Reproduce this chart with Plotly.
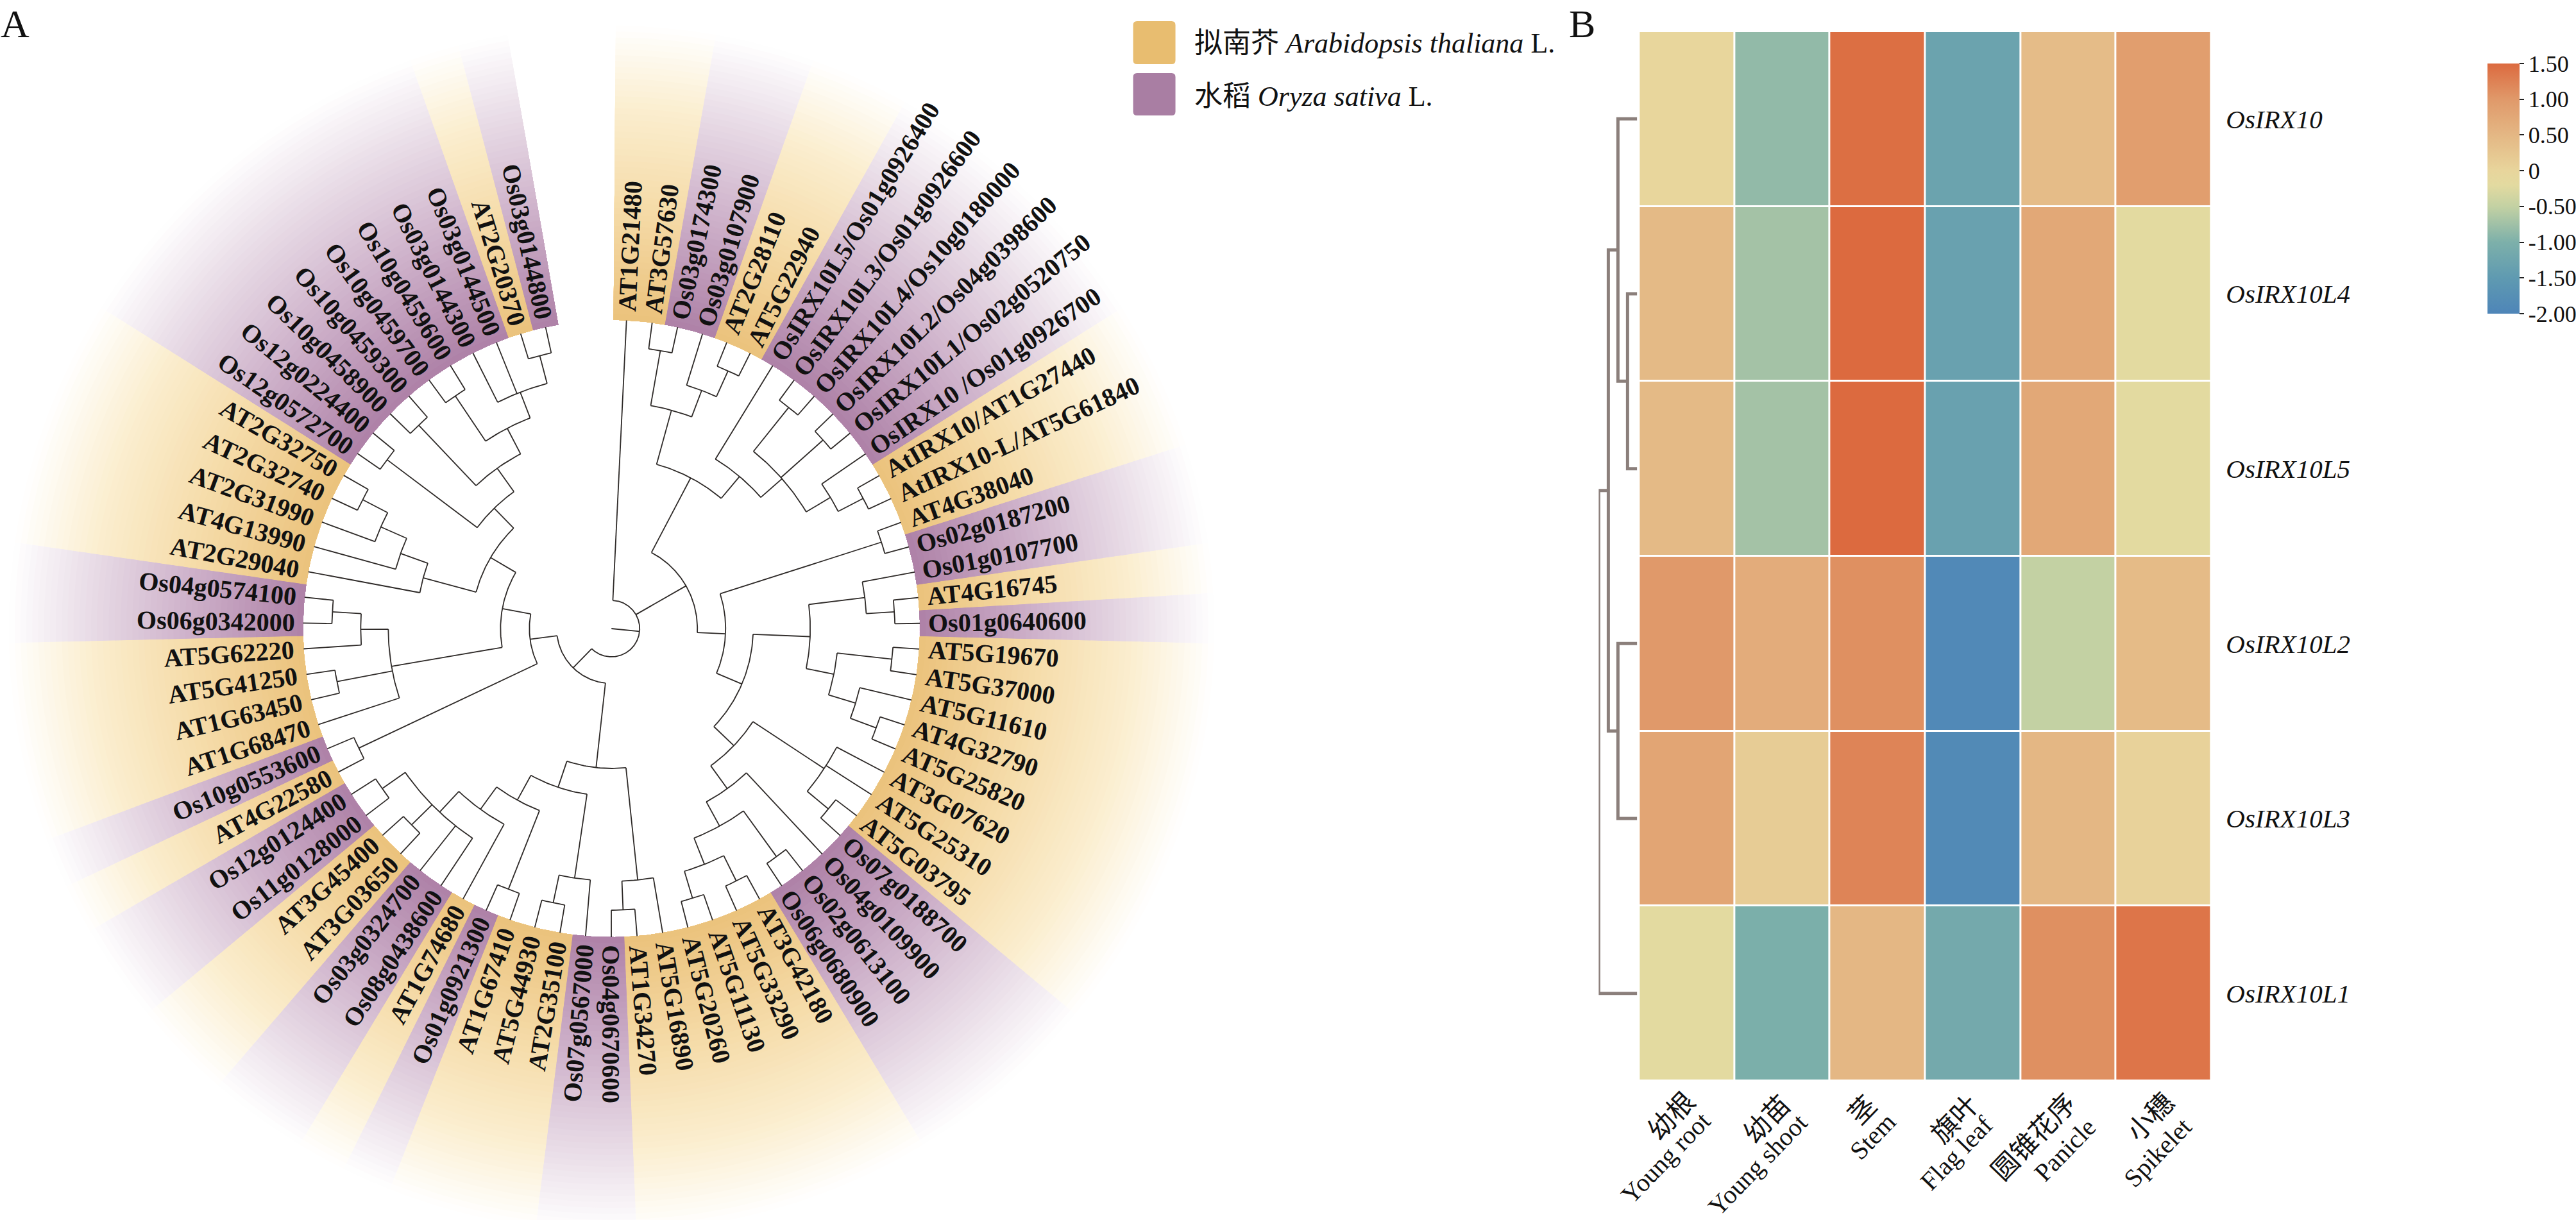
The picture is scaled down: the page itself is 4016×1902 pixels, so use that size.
import math
import plotly.graph_objects as go

# ---------- Panel A data ----------
LEAVES = ["AT1G21480","AT3G57630","Os03g0174300","Os03g0107900","AT2G28110","AT5G22940",
 "OsIRX10L5/Os01g0926400","OsIRX10L3/Os01g0926600","OsIRX10L4/Os10g0180000","OsIRX10L2/Os04g0398600",
 "OsIRX10L1/Os02g0520750","OsIRX10 /Os01g0926700","AtIRX10/AT1G27440","AtIRX10-L/AT5G61840","AT4G38040",
 "Os02g0187200","Os01g0107700","AT4G16745","Os01g0640600","AT5G19670","AT5G37000","AT5G11610","AT4G32790",
 "AT5G25820","AT3G07620","AT5G25310","AT5G03795","Os07g0188700","Os04g0109900","Os02g0613100","Os06g0680900",
 "AT3G42180","AT5G33290","AT5G11130","AT5G20260","AT5G16890","AT1G34270","Os04g0670600","Os07g0567000",
 "AT2G35100","AT5G44930","AT1G67410","Os01g0921300","AT1G74680","Os08g0438600","Os03g0324700","AT3G03650",
 "AT3G45400","Os11g0128000","Os12g0124400","AT4G22580","Os10g0553600","AT1G68470","AT1G63450","AT5G41250",
 "AT5G62220","Os06g0342000","Os04g0574100","AT2G29040","AT4G13990","AT2G31990","AT2G32740","AT2G32750",
 "Os12g0572700","Os12g0224400","Os10g0458900","Os10g0459300","Os10g0459700","Os10g0459600","Os03g0144300",
 "Os03g0144500","AT2G20370","Os03g0144800"]

# nested clades: (node radius, child, child, ...); an int is a 1-based leaf number
CLADE_TOP = (265.5, (353, (440, 2, 3), (397, 4, (441, 5, 6))),
             (310, 7, (354, (442, 8, 9), (442, 10, 11), (398, 12, (442, 13, 14)))))
CLADE_MID_A = (310, (398, 17, (442, 18, 19)), (354, (440, 20, 21), (398, 22, (441, 23, 24))))
CLADE_MID_B = (264, (397, 25, 26, (440, 27, 28)),
               (308, 29, (351, (439, 30, 31), (395, (439, 32, 33), (439, 34, 35)))))
CLADE_RIGHT = (134, CLADE_TOP, (178, (442, 15, 16), (221, CLADE_MID_A, CLADE_MID_B)))
CLADE_BOTTOM = (218, (394, 36, (439, 37, 38)),
                (261, (393, 39, (437, 40, 41)),
                 (305, (437, 42, 43), (348, 44, (392, 45, 46, (437, 47, 48), (436, 49, 50))))))
CLADE_ULTOP = (262, (438, 64, 65),
               (307, (437, 66, 67), (352, (437, 68, 69), (395, 70, 71, (440, 72, 73)))))
CLADE_UL = (218.6, (304, 59, (349, 60, (393, 61, (437, 62, 63)))), CLADE_ULTOP)
CLADE_LEFT = (128, (436, 51, 52), (173, (348, (391, 56, (436, 57, 58)), (436, 54, 55), 53), CLADE_UL))
TREE = (44, 1, CLADE_RIGHT, (85.5, CLADE_BOTTOM, CLADE_LEFT))

LEGEND_LABELS = ["拟南芥 <i>Arabidopsis thaliana</i> L.", "水稻 <i>Oryza sativa</i> L."]

# ---------- Panel B data ----------
GENES = ["OsIRX10", "OsIRX10L4", "OsIRX10L5", "OsIRX10L2", "OsIRX10L3", "OsIRX10L1"]
TISSUES_CN = ["幼根", "幼苗", "茎", "旗叶", "圆锥花序", "小穗"]
TISSUES_EN = ["Young root", "Young shoot", "Stem", "Flag leaf", "Panicle", "Spikelet"]
EXPR = [[-0.02, -0.85, 1.45, -1.30, 0.42, 0.92],
        [ 0.45, -0.72, 1.50, -1.33, 0.75, -0.20],
        [ 0.45, -0.72, 1.50, -1.33, 0.75, -0.20],
        [ 1.00,  0.68, 1.10, -1.90, -0.50, 0.43],
        [ 0.80,  0.15, 1.22, -1.87, 0.50, 0.05],
        [-0.20, -1.03, 0.50, -1.15, 1.10, 1.38]]
CB_TICKS = [1.5, 1.0, 0.5, 0, -0.5, -1.0, -1.5, -2.0]
CB_TEXT = ["1.50", "1.00", "0.50", "0", "-0.50", "-1.00", "-1.50", "-2.00"]
# dendrogram links: (height, row a, row b) in row positions
DENDRO = [(1, 1, 2), (2, 0, 1.5), (2, 3, 4), (3, 0.75, 3.5), (4, 2.125, 5)]
DENDRO_KIDS = {(1, 1): 0, (1, 2): 0, (2, 0): 0, (2, 1.5): 1, (2, 3): 0, (2, 4): 0,
               (3, 0.75): 2, (3, 3.5): 2, (4, 2.125): 3, (4, 5): 0}

# ---------- Layout constants ----------
W, H = 4016, 1902
CX, CY = 953.5, 980
R_IN, R_OUT = 481, 940
A0, STEP = 0.4, 4.79
ORANGE = [(0, (235, 194, 124)), (0.38, (245, 219, 168)), (0.72, (251, 238, 207)), (1, (255, 255, 255))]
PURPLE = [(0, (174, 129, 167)), (0.38, (205, 176, 201)), (0.72, (232, 219, 230)), (1, (255, 255, 255))]
SERIF = "Liberation Serif, Noto Sans CJK SC"
BOLD_W = {"O":778,"s":389,"g":500,"A":722,"T":667,"G":778,"I":389,"R":722,"X":722,"L":667,"t":333,"/":278," ":250,"-":333}


def xy(theta, r):
    t = math.radians(theta)
    return CX + r * math.sin(t), CY - r * math.cos(t)


def leaf_angle(i):
    return A0 + (i - 0.5) * STEP


def mix(stops, f):
    for (f0, c0), (f1, c1) in zip(stops, stops[1:]):
        if f <= f1:
            u = (f - f0) / (f1 - f0)
            return "rgb(%d,%d,%d)" % tuple(round(a + (b - a) * u) for a, b in zip(c0, c1))
    return "rgb(255,255,255)"


fig = go.Figure()

# gradient wedges: opaque nested sectors from the outside in, so no seams appear
groups = []
for i, name in enumerate(LEAVES, 1):
    sp = name[:2] == "AT" or name[:2] == "At"
    if groups and groups[-1][0] == sp:
        groups[-1][2] = i
    else:
        groups.append([sp, i, i])
N_BANDS = 50
for k in range(N_BANDS, 0, -1):
    f = (k - 0.5) / N_BANDS
    rk = R_IN + (R_OUT - R_IN) * k / N_BANDS
    for sp, stops in ((True, ORANGE), (False, PURPLE)):
        xs, ys = [], []
        for s, a, b in groups:
            if s != sp:
                continue
            t0, t1 = A0 + (a - 1) * STEP, A0 + b * STEP
            n = max(2, int((t1 - t0) / 0.8))
            ts = [t0 + (t1 - t0) * j / n for j in range(n + 1)]
            pts = [xy(t, rk) for t in ts] + [xy(t, R_IN) for t in reversed(ts)]
            xs += [p[0] for p in pts] + [pts[0][0], None]
            ys += [p[1] for p in pts] + [pts[0][1], None]
        fig.add_trace(go.Scatter(x=xs, y=ys, mode="lines", fill="toself", fillcolor=mix(stops, f),
                                 line=dict(width=0), hoverinfo="skip", showlegend=False))

# tree
tx, ty = [], []


def seg(points):
    for p in points:
        tx.append(p[0]); ty.append(p[1])
    tx.append(None); ty.append(None)


def walk(node):
    if isinstance(node, int):
        return leaf_angle(node), R_IN
    r = node[0]
    kids = [walk(c) for c in node[1:]]
    angs = [k[0] for k in kids]
    for a, rc in kids:
        seg([xy(a, rc), xy(a, r)])
    lo, hi = min(angs), max(angs)
    n = max(2, int((hi - lo) / 0.8))
    seg([xy(lo + (hi - lo) * j / n, r) for j in range(n + 1)])
    return sum(angs) / len(angs), r


root_angle, root_r = walk(TREE)
seg([xy(root_angle, 0), xy(root_angle, root_r)])
fig.add_trace(go.Scatter(x=tx, y=ty, mode="lines", line=dict(color="#2e2a28", width=1.8),
                         hoverinfo="skip", showlegend=False))

# ---------- heatmap ----------
HX0, HX1, HY0, HY1 = 2556, 3448, 49, 1685
SCALE_STOPS = [(-2, "#4E85B8"), (-1.5, "#5F9AB1"), (-1, "#7DB0AA"), (-0.5, "#C3D1A3"), (-0.2, "#E3DAA0"),
               (0, "#E8D59C"), (0.5, "#E4B784"), (1, "#E0996A"), (1.5, "#DC6A3F")]
cs = [[(v + 2) / 3.5, c] for v, c in SCALE_STOPS]
fig.add_trace(go.Heatmap(z=EXPR, x=list(range(6)), y=list(range(6)), xaxis="x2", yaxis="y2",
                         zmin=-2, zmax=1.5, colorscale=cs, xgap=3, ygap=3, hoverinfo="skip",
                         colorbar=dict(x=3878 / W, xanchor="left", y=1 - 99 / H, yanchor="top",
                                       lenmode="pixels", len=390, thicknessmode="pixels", thickness=50,
                                       xpad=0, ypad=0, outlinewidth=0, tickmode="array", tickvals=CB_TICKS,
                                       ticktext=CB_TEXT, ticks="outside", ticklen=7, tickwidth=2,
                                       tickcolor="#222", tickfont=dict(family=SERIF, size=36, color="#111"))))

dx, dy = [], []
for h, a, b in DENDRO:
    ha, hb = DENDRO_KIDS[(h, a)], DENDRO_KIDS[(h, b)]
    dx += [ha, h, h, hb, None]
    dy += [a, a, b, b, None]
fig.add_trace(go.Scatter(x=dx, y=dy, xaxis="x3", yaxis="y2", mode="lines", hoverinfo="skip", showlegend=False,
                         line=dict(color="#8B7F7B", width=5), cliponaxis=False))

# ---------- text ----------
ann = []
for i, name in enumerate(LEAVES, 1):
    th = leaf_angle(i)
    w = sum(BOLD_W.get(c, 500) for c in name) / 1000 * 40
    px, py = xy(th, 494 + w / 2)
    right = th <= 180.5
    ann.append(dict(x=px, y=py, xref="x", yref="y", text=name, showarrow=False, xanchor="center", yanchor="middle",
                    textangle=(th - 90) if right else (th - 270),
                    font=dict(family="Liberation Serif", size=40, color="#111", weight="bold")))

for txt, px, py in (("A", 24, 37), ("B", 2467, 37)):
    ann.append(dict(x=px, y=py, xref="x", yref="y", text=txt, showarrow=False,
                    font=dict(family="Liberation Serif", size=62, color="#111")))

for txt, py in zip(LEGEND_LABELS, (67, 150)):
    ann.append(dict(x=1860, y=py, xref="x", yref="y", text=txt, showarrow=False, xanchor="left", yanchor="middle",
                    font=dict(family=SERIF, size=44, color="#111")))

CN_POS = [(2607, 1740), (2756, 1745), (2905, 1731), (3049, 1745), (3172, 1773), (3354, 1742)]
EN_POS = [(2597, 1805), (2741, 1815), (2920, 1771), (3051, 1797), (3220, 1792), (3364, 1797)]
for txt, pos, fam, sz in [(t, p, SERIF, 42) for t, p in zip(TISSUES_CN, CN_POS)] + [(t, p, "Liberation Serif", 40) for t, p in zip(TISSUES_EN, EN_POS)]:
    ann.append(dict(x=pos[0], y=pos[1], xref="x", yref="y", text=txt, showarrow=False, textangle=-46,
                    xanchor="center", yanchor="middle", font=dict(family=fam, size=sz, color="#111")))


def rrect(x0, y0, x1, y1, r=6):
    return (f"M{x0+r},{y0} L{x1-r},{y0} Q{x1},{y0} {x1},{y0+r} L{x1},{y1-r} Q{x1},{y1} {x1-r},{y1} "
            f"L{x0+r},{y1} Q{x0},{y1} {x0},{y1-r} L{x0},{y0+r} Q{x0},{y0} {x0+r},{y0} Z")


shapes = [dict(type="path", xref="x", yref="y", path=rrect(1767, 33, 1833, 100), fillcolor="#E8BD70", line_width=0),
          dict(type="path", xref="x", yref="y", path=rrect(1767, 114, 1833, 180), fillcolor="#A97EA3", line_width=0)]

fig.update_layout(
    width=W, height=H, margin=dict(l=0, r=0, t=0, b=0), paper_bgcolor="white", plot_bgcolor="rgba(0,0,0,0)",
    showlegend=False, annotations=ann, shapes=shapes,
    xaxis=dict(range=[0, W], domain=[0, 1], visible=False, fixedrange=True),
    yaxis=dict(range=[H, 0], domain=[0, 1], visible=False, fixedrange=True),
    xaxis2=dict(domain=[HX0 / W, HX1 / W], anchor="y2", range=[-0.5, 5.5], showticklabels=False, ticks="",
                showgrid=False, zeroline=False, showline=False),
    yaxis2=dict(domain=[1 - HY1 / H, 1 - HY0 / H], anchor="x2", side="right", range=[5.5, -0.5], tickmode="array",
                tickvals=list(range(6)), ticktext=[f"<i>{g}</i>" for g in GENES], ticks="outside", ticklen=14,
                tickcolor="rgba(0,0,0,0)", tickfont=dict(family="Liberation Serif", size=41, color="#111"),
                showgrid=False, zeroline=False, showline=False),
    xaxis3=dict(domain=[2493 / W, 2553 / W], anchor="y2", range=[4, 0], visible=False),
)
fig.write_html("out.html", config={"displayModeBar": False}, post_script="document.body.style.margin='0';")
